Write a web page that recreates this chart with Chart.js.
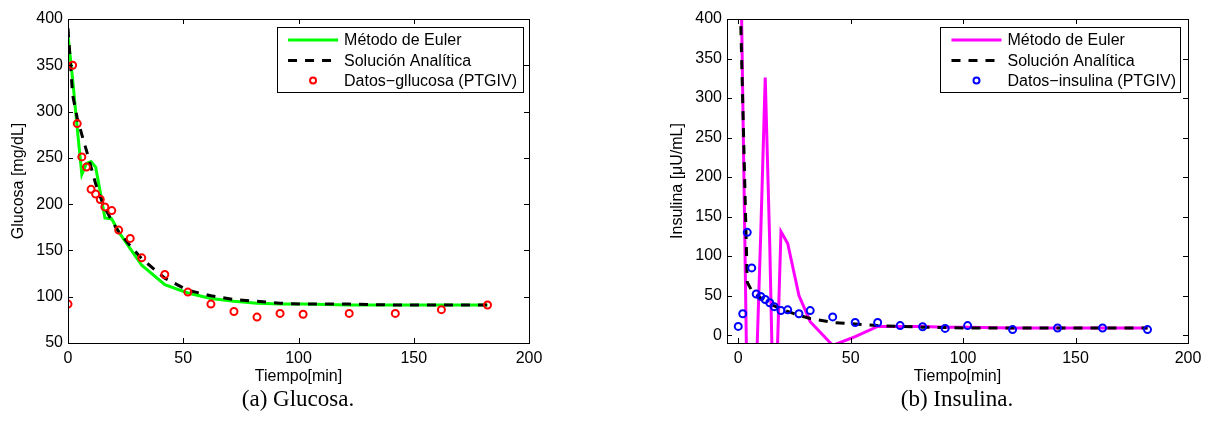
<!DOCTYPE html>
<html>
<head>
<meta charset="utf-8">
<script src="https://cdn.jsdelivr.net/npm/chart.js@4.4.0/dist/chart.umd.min.js"></script>
<style>
  body { margin: 0; background: #fff; width: 1210px; height: 432px; overflow: hidden; position: relative; }
  .panel { position: absolute; top: 0; height: 390px; }
  .cap { position: absolute; top: 386px; font-family: "Liberation Serif", serif; font-size: 23px; color: #000;
         transform: translateX(-50%); white-space: nowrap; }
</style>
</head>
<body>
<div class="panel" style="left:0; width:560px;"><canvas id="glucosa"></canvas></div>
<div class="panel" style="left:660px; width:550px;"><canvas id="insulina"></canvas></div>
<div class="cap" style="left:298px;">(a) Glucosa.</div>
<div class="cap" style="left:957px;">(b) Insulina.</div>

<script>
// --- data (PTGIV sampling times) ---
const tiempo = [0, 2, 4, 6, 8, 10, 12, 14, 16, 19, 22, 27, 32, 42, 52, 62, 72, 82, 92, 102, 122, 142, 162, 182];

const glucosaDatos     = [92, 350, 287, 251, 240, 216, 211, 205, 197, 193, 172, 163, 142, 124, 105, 92, 84, 78, 82, 81, 82, 82, 86, 91];
const glucosaEuler     = [382, 335, 282, 232, 244, 246, 240, 213, 185, 184, 170, 152, 134, 113, 104, 98, 95, 93, 92, 92, 91, 91, 91, 91];
const glucosaAnalitica = [390, 318, 293, 275, 258, 240, 222, 208, 196, 182, 170, 155, 141, 120, 107, 101, 97, 95, 93, 92, 92, 91, 91, 91];

const insulinaDatos     = [11, 27, 130, 85, 52, 49, 45, 41, 36, 31, 32, 27, 31, 23, 16, 16, 12, 10.5, 8.5, 12, 7, 9, 9, 7];
const insulinaEuler     = [700, 302, -88, -200, -50, 128, 326, 116, -151, 131, 116, 50, 17, -13, -2, 11, 11, 11, 10, 10, 9, 9, 9, 9];
const insulinaAnalitica = [520, 295, 67, 56, 51, 47, 43, 40, 37, 33, 30, 25, 21, 16, 14, 12, 11, 10, 9.5, 9, 9, 9, 9, 9];

const xTicks = [0, 50, 100, 150, 200];
const glucosaTicks = [50, 100, 150, 200, 250, 300, 350, 400];
const insulinaTicks = [0, 50, 100, 150, 200, 250, 300, 350, 400];

Chart.defaults.font.family = '"Liberation Sans", Arial, sans-serif';
Chart.defaults.font.size = 16;
Chart.defaults.color = '#000';

const MINUS = '\u2212';

function pts(values) {
    return tiempo.map((t, i) => ({ x: t, y: values[i] }));
}

// MATLAB style box with inward ticks on all four sides
const framePlugin = {
    id: 'frame',
    afterDatasetsDraw(chart) {
        const { ctx, chartArea: a, scales: { x, y } } = chart;
        const len = 5;
        ctx.save();
        ctx.strokeStyle = '#000';
        ctx.lineWidth = 1;
        ctx.strokeRect(a.left + 0.5, a.top + 0.5, a.right - a.left, a.bottom - a.top);
        ctx.beginPath();
        x.ticks.forEach(t => {
            const px = Math.round(x.getPixelForValue(t.value)) + 0.5;
            ctx.moveTo(px, a.bottom); ctx.lineTo(px, a.bottom - len);
            ctx.moveTo(px, a.top); ctx.lineTo(px, a.top + len);
        });
        y.ticks.forEach(t => {
            const py = Math.round(y.getPixelForValue(t.value)) + 0.5;
            ctx.moveTo(a.left, py); ctx.lineTo(a.left + len, py);
            ctx.moveTo(a.right, py); ctx.lineTo(a.right - len, py);
        });
        ctx.stroke();
        ctx.restore();
    }
};

// legend box in the upper right corner, drawn from the datasets
const legendPlugin = {
    id: 'boxLegend',
    afterDraw(chart, args, opts) {
        const { ctx, chartArea: a } = chart;
        const sets = chart.data.datasets;
        ctx.save();
        ctx.font = '16px "Liberation Sans", Arial, sans-serif';
        const textW = Math.max(...sets.map(d => ctx.measureText(d.label).width));
        const w = 67 + textW + opts.padRight;
        const h = 65;
        const left = a.right - opts.right - w;
        const top = a.top + 8;
        ctx.fillStyle = '#fff';
        ctx.fillRect(left, top, w, h);
        ctx.strokeStyle = '#000';
        ctx.lineWidth = 1;
        ctx.strokeRect(Math.round(left) + 0.5, top + 0.5, Math.round(w), h);
        const rows = [13, 33.5, 53.5];
        sets.forEach((d, i) => {
            const cy = top + rows[i];
            if (d.showLine === false) {
                ctx.beginPath();
                ctx.strokeStyle = d.borderColor;
                ctx.lineWidth = 2;
                ctx.arc(left + 36, cy, 3, 0, Math.PI * 2);
                ctx.stroke();
            } else {
                ctx.beginPath();
                ctx.strokeStyle = d.borderColor;
                ctx.lineWidth = 3;
                ctx.setLineDash(d.borderDash || []);
                ctx.moveTo(left + 11, cy);
                ctx.lineTo(left + 61, cy);
                ctx.stroke();
                ctx.setLineDash([]);
            }
            ctx.fillStyle = '#000';
            ctx.textBaseline = 'middle';
            ctx.fillText(d.label, left + 67, cy + 1);
        });
        ctx.restore();
    }
};

function makeChart(id, cfg) {
    return new Chart(document.getElementById(id), {
        type: 'line',
        data: {
            datasets: [
                {
                    label: 'Método de Euler',
                    data: pts(cfg.euler),
                    borderColor: cfg.eulerColor,
                    borderWidth: 3,
                    pointRadius: 0,
                    tension: 0,
                    order: 3
                },
                {
                    label: 'Solución Analítica',
                    data: pts(cfg.analitica),
                    borderColor: '#000',
                    borderWidth: 3,
                    borderDash: [9, 8],
                    pointRadius: 0,
                    tension: 0,
                    order: 2
                },
                {
                    label: cfg.datosLabel,
                    data: pts(cfg.datos),
                    showLine: false,
                    borderColor: cfg.datosColor,
                    backgroundColor: 'transparent',
                    pointRadius: 3.5,
                    pointBorderWidth: 2,
                    order: 1
                }
            ]
        },
        options: {
            responsive: true,
            maintainAspectRatio: false,
            animation: false,
            events: [],
            layout: { padding: { top: 19, right: cfg.padRight, left: 0, bottom: 0 } },
            scales: {
                x: {
                    type: 'linear',
                    min: cfg.xMin,
                    max: 200,
                    afterBuildTicks: s => { s.ticks = xTicks.map(v => ({ value: v })); },
                    afterFit: s => { s.height = 47; },
                    grid: { display: false, drawTicks: false },
                    border: { display: false },
                    ticks: { padding: 6, maxRotation: 0 },
                    title: { display: true, text: 'Tiempo[min]', padding: { top: 0, bottom: 4 } }
                },
                y: {
                    min: cfg.yMin,
                    max: 400,
                    afterBuildTicks: s => { s.ticks = cfg.yTicks.map(v => ({ value: v })); },
                    afterFit: s => { s.width = cfg.yWidth; },
                    grid: { display: false, drawTicks: false },
                    border: { display: false },
                    ticks: { padding: 5 },
                    title: { display: true, text: cfg.yTitle, padding: { top: cfg.yTitlePad, bottom: 0 } }
                }
            },
            plugins: {
                legend: { display: false },
                tooltip: { enabled: false },
                boxLegend: { right: cfg.legendRight, padRight: cfg.legendPad }
            }
        },
        plugins: [framePlugin, legendPlugin]
    });
}

makeChart('glucosa', {
    euler: glucosaEuler,
    analitica: glucosaAnalitica,
    datos: glucosaDatos,
    eulerColor: '#00ff00',
    datosColor: '#ff0000',
    datosLabel: 'Datos' + MINUS + 'gllucosa (PTGIV)',
    xMin: 0,
    yMin: 50,
    yTicks: glucosaTicks,
    yTitle: 'Glucosa [mg/dL]',
    yWidth: 68,
    yTitlePad: 9,
    padRight: 31,
    legendRight: 6,
    legendPad: 6
});

makeChart('insulina', {
    euler: insulinaEuler,
    analitica: insulinaAnalitica,
    datos: insulinaDatos,
    eulerColor: '#ff00ff',
    datosColor: '#0000ff',
    datosLabel: 'Datos' + MINUS + 'insulina (PTGIV)',
    xMin: -5,
    yMin: -10,
    yTicks: insulinaTicks,
    yTitle: 'Insulina [\u03bcU/mL]',
    yWidth: 67,
    yTitlePad: 8,
    padRight: 22,
    legendRight: 8,
    legendPad: 4
});
</script>
</body>
</html>
